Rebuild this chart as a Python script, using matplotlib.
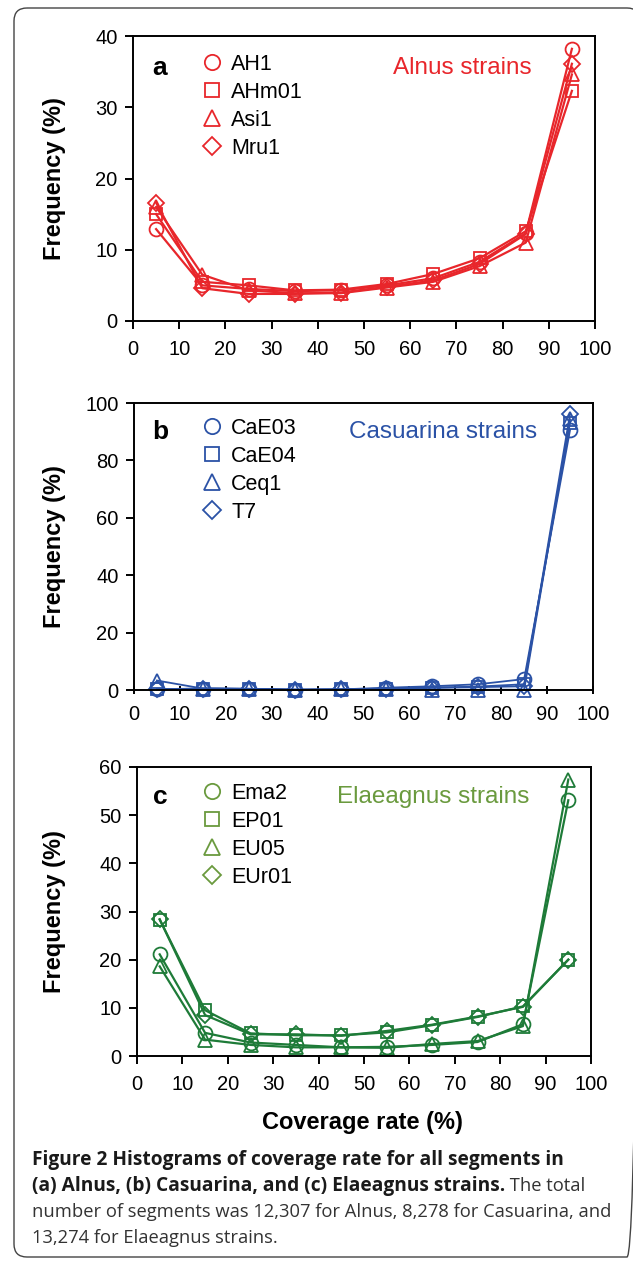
import matplotlib
matplotlib.use("Agg")
import matplotlib.pyplot as plt
from matplotlib.patches import FancyBboxPatch

plt.rcParams["font.family"] = ["Liberation Sans", "DejaVu Sans"]

coverage = [5, 15, 25, 35, 45, 55, 65, 75, 85, 95]
x_ticks = [0, 10, 20, 30, 40, 50, 60, 70, 80, 90, 100]

# panel a: Alnus
alnus_names = ["AH1", "AHm01", "Asi1", "Mru1"]
ah1 = [12.9, 5.0, 4.5, 4.2, 4.3, 5.0, 6.0, 8.3, 12.3, 38.2]
ahm01 = [15.0, 5.5, 5.0, 4.3, 4.4, 5.2, 6.6, 8.8, 12.6, 32.3]
asi1 = [16.0, 6.5, 4.3, 3.9, 3.9, 4.7, 5.5, 7.7, 11.0, 34.6]
mru1 = [16.6, 4.6, 3.8, 3.8, 4.0, 4.8, 5.7, 8.0, 12.2, 36.1]

# panel b: Casuarina
casuarina_names = ["CaE03", "CaE04", "Ceq1", "T7"]
cae03 = [0.2, 0.5, 0.4, 0.1, 0.2, 0.8, 1.3, 2.0, 3.8, 90.6]
cae04 = [0.3, 0.5, 0.4, 0.1, 0.2, 0.5, 0.8, 1.2, 2.0, 93.2]
ceq1 = [3.3, 0.5, 0.4, 0.1, 0.2, 0.3, 0.1, 0.1, 0.1, 94.3]
t7 = [0.2, 0.5, 0.4, 0.1, 0.2, 0.5, 0.8, 1.0, 1.3, 96.2]

# panel c: Elaeagnus
elaeagnus_names = ["Ema2", "EP01", "EU05", "EUr01"]
ema2 = [21.1, 4.8, 2.8, 2.3, 1.8, 1.9, 2.3, 2.9, 6.6, 53.1]
ep01 = [28.3, 9.5, 4.7, 4.3, 4.3, 4.9, 6.4, 8.1, 10.3, 20.0]
eu05 = [18.6, 3.4, 2.3, 1.8, 1.8, 1.7, 2.5, 3.1, 6.2, 57.4]
eur01 = [28.4, 8.5, 4.5, 4.5, 4.2, 5.2, 6.5, 8.2, 10.2, 20.0]

W, H = 633, 1261
fig = plt.figure(figsize=(W / 100, H / 100), dpi=100)


def fx(px):
    return px / W


def fy(py):
    return 1 - py / H


# background axes in pixel units, for the rounded outer frame
bg = fig.add_axes([0, 0, 1, 1], zorder=-1)
bg.set_xlim(0, W)
bg.set_ylim(H, 0)
bg.axis("off")
bg.add_patch(FancyBboxPatch((14, 8), 640 - 14, 1257 - 8,
                            boxstyle="round,pad=0,rounding_size=13",
                            fill=False, edgecolor="#444444", lw=1.0, clip_on=False))

markers = ["o", "s", "^", "D"]
msizes = [10, 9, 10, 8]

panels = [
    dict(box=(133, 36, 595, 321), series=[ah1, ahm01, asi1, mru1], names=alnus_names,
         color="#E8262B", line="#E8262B", label_color="#E8262B", title="Alnus strains",
         letter="a", ymax=40, ystep=10, lw=1.6, text_y=68, title_right=532, ticks="out"),
    dict(box=(134, 403, 593, 690), series=[cae03, cae04, ceq1, t7], names=casuarina_names,
         color="#2B52A6", line="#2B52A6", label_color="#2B52A6", title="Casuarina strains",
         letter="b", ymax=100, ystep=20, lw=1.3, text_y=432, title_right=537, ticks="inout"),
    dict(box=(137, 767, 591, 1056), series=[ema2, ep01, eu05, eur01], names=elaeagnus_names,
         color="#1E7B38", line="#1E7B38", label_color="#6A9A3E", title="Elaeagnus strains",
         letter="c", ymax=60, ystep=10, lw=1.6, text_y=797, title_right=529, ticks="out"),
]

for p in panels:
    x0, y0, x1, y1 = p["box"]
    ax = fig.add_axes([fx(x0), fy(y1), fx(x1) - fx(x0), (y1 - y0) / H])
    for vals, name, m, ms in zip(p["series"], p["names"], markers, msizes):
        ax.plot(coverage, vals, color=p["line"], lw=p["lw"], marker=m, ms=ms,
                mfc="none", mec=p["color"], mew=1.3, label=name, clip_on=False)
    ax.set_xlim(0, 100)
    ax.set_ylim(0, p["ymax"])
    ax.set_xticks(x_ticks)
    ax.set_yticks(range(0, p["ymax"] + 1, p["ystep"]))
    ax.tick_params(axis="both", labelsize=14.5, width=1.4, length=6, pad=5)
    ax.tick_params(axis="x", direction=p["ticks"], pad=8)
    ax.tick_params(axis="y", direction="out")
    for s in ax.spines.values():
        s.set_linewidth(1.4)

    leg = ax.legend(loc="upper left", bbox_to_anchor=(fx(201), fy(p["text_y"] - 14)),
                    bbox_transform=fig.transFigure, frameon=False, fontsize=15.5,
                    handlelength=1.0, handletextpad=0.4, labelspacing=0.32,
                    borderpad=0, borderaxespad=0, markerscale=1.1)
    for h in leg.get_lines():
        h.set_linestyle("none")
        h.set_color(p["label_color"])
        h.set_markeredgecolor(p["label_color"])

    fig.text(fx(160), fy(p["text_y"]), p["letter"], fontsize=19, fontweight="bold",
             ha="center", va="center")
    fig.text(fx(p["title_right"]), fy(p["text_y"]), p["title"], fontsize=17.5,
             color=p["label_color"], ha="right", va="center")
    fig.text(fx(54), fy((y0 + y1) / 2), "Frequency (%)", fontsize=17, fontweight="bold",
             rotation=90, ha="center", va="center")

fig.text(fx(362), fy(1122), "Coverage rate (%)", fontsize=17, fontweight="bold",
         ha="center", va="center")

# caption
cap = dict(family=["Open Sans", "DejaVu Sans"], va="center", ha="left")
fig.text(fx(32), fy(1160), "Figure 2 Histograms of coverage rate for all segments in",
         fontweight="bold", fontsize=13.8, color="#1a1a1a", **cap)
bold_part = fig.text(fx(32), fy(1186), "(a) Alnus, (b) Casuarina, and (c) Elaeagnus strains.",
                     fontweight="bold", fontsize=13.8, color="#1a1a1a", **cap)
fig.canvas.draw()
bb = bold_part.get_window_extent().transformed(fig.transFigure.inverted())
fig.text(bb.x1, fy(1186), " The total", fontsize=13.2, color="#333333", **cap)
fig.text(fx(32), fy(1212), "number of segments was 12,307 for Alnus, 8,278 for Casuarina, and",
         fontsize=13.2, color="#333333", **cap)
fig.text(fx(32), fy(1238), "13,274 for Elaeagnus strains.", fontsize=13.2, color="#333333",
         **cap)

fig.savefig("out.png", dpi=100)
